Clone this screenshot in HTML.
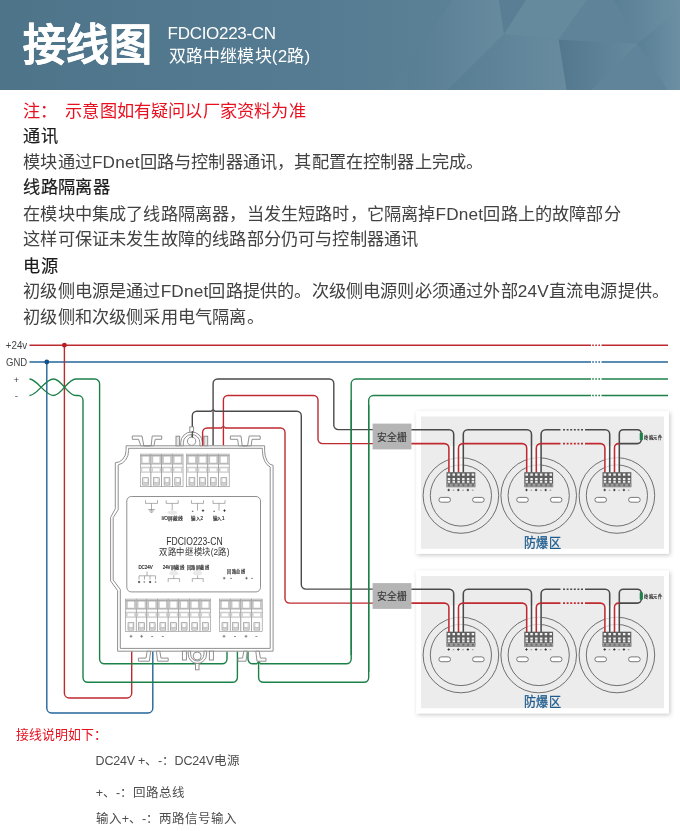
<!DOCTYPE html>
<html lang="zh-CN">
<head>
<meta charset="utf-8">
<title>接线图 FDCIO223-CN</title>
<style>
html,body{margin:0;padding:0;background:#fff;}
body{width:680px;height:831px;position:relative;overflow:hidden;font-family:"Liberation Sans",sans-serif;color:#333;}
#hdr{position:absolute;left:0;top:0;width:680px;height:89.5px;overflow:hidden;background:#4f758b;}
#hdr svg{position:absolute;left:0;top:0;}
#title{position:absolute;left:22.5px;top:17px;font-size:43px;line-height:56px;font-weight:bold;color:#fff;white-space:nowrap;-webkit-text-stroke:0.5px #fff;}
#sub1,#sub2{position:absolute;left:169px;font-size:17px;line-height:22px;color:#fff;white-space:nowrap;}
#sub1{top:23px;left:167.6px;letter-spacing:-0.3px;}
#sub2{top:45.6px;left:168.6px;letter-spacing:0.2px;}
.t{position:absolute;left:23.2px;font-size:17.2px;line-height:26px;white-space:nowrap;color:#424242;letter-spacing:0.18px;}
.t i{font-style:normal;letter-spacing:0.2px;}
.b{font-weight:normal;color:#1c1c1c;-webkit-text-stroke:0.2px #1c1c1c;letter-spacing:0.35px;}
.r{color:#e8101f;}
.f{position:absolute;font-size:12.5px;line-height:18px;white-space:nowrap;color:#4d4d4d;}
#dia{position:absolute;left:0;top:330px;}
#wrap{position:absolute;left:0;top:0;width:680px;height:831px;will-change:transform;}
</style>
</head>
<body>
<div id="wrap">
<div id="hdr">
<svg width="680" height="90" viewBox="0 0 680 90">
<defs>
<linearGradient id="hg" x1="0" y1="0" x2="1" y2="0"><stop offset="0" stop-color="#4e748a"/><stop offset="0.5" stop-color="#557c92"/><stop offset="0.62" stop-color="#5a8095"/><stop offset="1" stop-color="#64889c"/></linearGradient>
<linearGradient id="g1" x1="0" y1="0" x2="1" y2="0"><stop offset="0" stop-color="#587e94"/><stop offset="1" stop-color="#688b9f"/></linearGradient>
<linearGradient id="g2" x1="0" y1="0" x2="1" y2="0"><stop offset="0" stop-color="#53788e"/><stop offset="1" stop-color="#668a9e"/></linearGradient>
<linearGradient id="g3" x1="0" y1="0" x2="1" y2="0"><stop offset="0" stop-color="#5a8096"/><stop offset="1" stop-color="#6c8fa3"/></linearGradient>
</defs>
<rect width="680" height="90" fill="url(#hg)"/>
<polygon points="410,63 452.5,0 499,0 504,34 446,92 407,92" fill="url(#g1)" opacity="0.9"/>
<polygon points="410,63 407,92 385,92" fill="#5b8096" opacity="0.6"/>
<polygon points="499,0 526,0 504,34" fill="#5a7f95"/>
<polygon points="504,34 446,92 567,92 558.7,39.7" fill="url(#g1)"/>
<polygon points="526,0 587,0 558.7,39.7 504,34" fill="#65899d"/>
<polygon points="587,0 614,0 637.6,43.7 558.7,39.7" fill="#5f8499"/>
<polygon points="614,0 680,0 680,8 637.6,43.7" fill="url(#g3)"/>
<polygon points="558.7,39.7 637.6,43.7 590,92 567,92" fill="url(#g2)"/>
<polygon points="637.6,43.7 669,92 590,92" fill="#608499"/>
<polygon points="637.6,43.7 680,8 680,92 669,92" fill="url(#g3)"/>
</svg>
<div id="title">接线图</div>
<div id="sub1">FDCIO223-CN</div>
<div id="sub2">双路中继模块(2路)</div>
</div>
<div class="t r" style="top:98.4px">注：<span style="margin-left:7.6px">示意图</span>如有疑问以厂家资料为准</div>
<div class="t b" style="top:123.4px">通讯</div>
<div class="t" style="top:149.4px">模块通过<i>FDnet</i>回路与控制器通讯，其配置在控制器上完成。</div>
<div class="t b" style="top:174.4px">线路隔离器</div>
<div class="t" style="top:201.4px">在模块中集成了线路隔离器，当发生短路时，它隔离掉<i>FDnet</i>回路上的故障部分</div>
<div class="t" style="top:226.4px">这样可保证未发生故障的线路部分仍可与控制器通讯</div>
<div class="t b" style="top:253.4px">电源</div>
<div class="t" style="top:278.4px">初级侧电源是通过<i>FDnet</i>回路提供的。次级侧电源则必须通过外部<i>24V</i>直流电源提供。</div>
<div class="t" style="top:304.4px">初级侧和次级侧采用电气隔离。</div>
<svg id="dia" width="680" height="400" viewBox="0 330 680 400">
<defs><filter id="sh" x="-5%" y="-8%" width="112%" height="120%"><feDropShadow dx="1.2" dy="1.5" stdDeviation="2" flood-color="#000" flood-opacity="0.22"/></filter></defs>
<rect x="416.2" y="411.2" width="252.8" height="142.6" fill="#fff" filter="url(#sh)"/>
<rect x="421" y="416.5" width="243" height="132.2" fill="#ececec"/>
<rect x="416.2" y="570.7" width="252.8" height="142.6" fill="#fff" filter="url(#sh)"/>
<rect x="421" y="576" width="243" height="132.2" fill="#ececec"/>
<path d="M29.5,345.2H591" fill="none" stroke="#be2a30" stroke-width="1.4" />
<path d="M592.2,345.2H600.6" fill="none" stroke="#be2a30" stroke-width="1.4" stroke-dasharray="1.6 1.5"/>
<path d="M601.5,345.2H668" fill="none" stroke="#be2a30" stroke-width="1.4" />
<path d="M29.5,362H591" fill="none" stroke="#23659a" stroke-width="1.4" />
<path d="M592.2,362H600.6" fill="none" stroke="#23659a" stroke-width="1.4" stroke-dasharray="1.6 1.5"/>
<path d="M601.5,362H668" fill="none" stroke="#23659a" stroke-width="1.4" />
<path d="M46.8,362V708.2A4.8,4.8 0 0 0 51.6,713H148A4.8,4.8 0 0 0 152.8,708.2V651.3" fill="none" stroke="#23659a" stroke-width="1.4" />
<path d="M64.4,345.2V693.2A4.8,4.8 0 0 0 69.2,698H126.9A4.8,4.8 0 0 0 131.7,693.2V651.3" fill="none" stroke="#be2a30" stroke-width="1.4" />
<circle cx="64.4" cy="345.2" r="2.4" fill="#b41f26"/>
<circle cx="46.8" cy="362" r="2.4" fill="#125087"/>
<path d="M29.5,379C37,379 45,395.5 53.5,395.5C62,395.5 67,379 76,379H94.8A4.8,4.8 0 0 1 99.6,383.8V659A4.8,4.8 0 0 0 104.4,663.8H222.2A4.8,4.8 0 0 0 227,659V651.3" fill="none" stroke="#1c8049" stroke-width="1.4" />
<path d="M29.5,395.5C37,395.5 45,379 53.5,379C62,379 67,395.5 76,395.5H78.2A4.8,4.8 0 0 1 83,400.3V677.5A4.8,4.8 0 0 0 87.8,682.3H232.6A4.8,4.8 0 0 0 237.4,677.5V651.3" fill="none" stroke="#1c8049" stroke-width="1.4" />
<path d="M248,651.3V659A4.8,4.8 0 0 0 252.8,663.8H256.6q2,-2.8 4,0H346.4A4.8,4.8 0 0 0 351.2,659V383.8A4.8,4.8 0 0 1 356,379H591" fill="none" stroke="#1c8049" stroke-width="1.4" />
<path d="M592.2,379H600.6" fill="none" stroke="#1c8049" stroke-width="1.4" stroke-dasharray="1.6 1.5"/>
<path d="M601.5,379H668" fill="none" stroke="#1c8049" stroke-width="1.4" />
<path d="M258.6,651.3V677.5A4.8,4.8 0 0 0 263.4,682.3H363.9A4.8,4.8 0 0 0 368.7,677.5V400.3A4.8,4.8 0 0 1 373.5,395.5H591" fill="none" stroke="#1c8049" stroke-width="1.4" />
<path d="M592.2,395.5H600.6" fill="none" stroke="#1c8049" stroke-width="1.4" stroke-dasharray="1.6 1.5"/>
<path d="M601.5,395.5H668" fill="none" stroke="#1c8049" stroke-width="1.4" />
<path d="M213.1,445.6V383.5A4.5,4.5 0 0 1 217.6,379H329.3A4.5,4.5 0 0 1 333.8,383.5V425.1A4.5,4.5 0 0 0 338.3,429.6H373" fill="none" stroke="#4a4a4a" stroke-width="1.4" />
<path d="M223.4,445.6V400A4.5,4.5 0 0 1 227.9,395.5H313.5A4.5,4.5 0 0 1 318,400V439.1A4.5,4.5 0 0 0 322.5,443.6H373" fill="none" stroke="#be2a30" stroke-width="1.4" />
<path d="M192.3,437.5V415.8A4.5,4.5 0 0 1 196.8,411.3H211.1q2,-2.8 4,0H296.8A4.5,4.5 0 0 1 301.3,415.8V584.6A4.5,4.5 0 0 0 305.8,589.1H373" fill="none" stroke="#4a4a4a" stroke-width="1.4" />
<path d="M202.6,445.6V432.5A4.5,4.5 0 0 1 207.1,428H221.4q2,-2.8 4,0H280.5A4.5,4.5 0 0 1 285,432.5V598.6A4.5,4.5 0 0 0 289.5,603.1H373" fill="none" stroke="#be2a30" stroke-width="1.4" />
<path d="M351.2,400V655" fill="none" stroke="#1c8049" stroke-width="1.4" />
<path d="M368.7,405V672" fill="none" stroke="#1c8049" stroke-width="1.4" />
<rect x="372.6" y="423.6" width="38.8" height="25.8" fill="#b5b5b5"/>
<text x="392" y="440.5" font-size="10.6" fill="#3a3a3a" stroke="#3a3a3a" stroke-width="0.2" text-anchor="middle" textLength="30.6" lengthAdjust="spacingAndGlyphs">安全栅</text>
<rect x="372.6" y="583.1" width="38.8" height="25.8" fill="#b5b5b5"/>
<text x="392" y="600" font-size="10.6" fill="#3a3a3a" stroke="#3a3a3a" stroke-width="0.2" text-anchor="middle" textLength="30.6" lengthAdjust="spacingAndGlyphs">安全栅</text>
<circle cx="460.9" cy="495.5" r="37.8" fill="none" stroke="#585858" stroke-width="0.85"/>
<circle cx="460.9" cy="495.5" r="30.6" fill="none" stroke="#585858" stroke-width="0.85"/>
<rect x="438.9" y="497.4" width="11.6" height="4.8" rx="2.4" fill="#fff" stroke="#5a5a5a" stroke-width="0.8"/>
<rect x="472.6" y="497.4" width="11.6" height="4.8" rx="2.4" fill="#fff" stroke="#5a5a5a" stroke-width="0.8"/>
<circle cx="538.7" cy="495.5" r="37.8" fill="none" stroke="#585858" stroke-width="0.85"/>
<circle cx="538.7" cy="495.5" r="30.6" fill="none" stroke="#585858" stroke-width="0.85"/>
<rect x="516.7" y="497.4" width="11.6" height="4.8" rx="2.4" fill="#fff" stroke="#5a5a5a" stroke-width="0.8"/>
<rect x="550.4" y="497.4" width="11.6" height="4.8" rx="2.4" fill="#fff" stroke="#5a5a5a" stroke-width="0.8"/>
<circle cx="616.9" cy="495.5" r="37.8" fill="none" stroke="#585858" stroke-width="0.85"/>
<circle cx="616.9" cy="495.5" r="30.6" fill="none" stroke="#585858" stroke-width="0.85"/>
<rect x="594.9" y="497.4" width="11.6" height="4.8" rx="2.4" fill="#fff" stroke="#5a5a5a" stroke-width="0.8"/>
<rect x="628.6" y="497.4" width="11.6" height="4.8" rx="2.4" fill="#fff" stroke="#5a5a5a" stroke-width="0.8"/>
<rect x="448.1" y="446" width="16" height="26.5" fill="#fff" opacity="0.7"/>
<rect x="525.9" y="446" width="16" height="26.5" fill="#fff" opacity="0.7"/>
<rect x="604.1" y="446" width="16" height="26.5" fill="#fff" opacity="0.7"/>
<path d="M411.4,429.7H449.2A4.5,4.5 0 0 1 453.7,434.2V472.6" fill="none" stroke="#4a4a4a" stroke-width="1.55" />
<path d="M411.4,443.6H444.4A4.5,4.5 0 0 1 448.9,448.1V472.6" fill="none" stroke="#be2a30" stroke-width="1.55" />
<path d="M463.3,472.6V434.2A4.5,4.5 0 0 1 467.8,429.7H527A4.5,4.5 0 0 1 531.5,434.2V472.6" fill="none" stroke="#4a4a4a" stroke-width="1.55" />
<path d="M458.5,472.6V448.1A4.5,4.5 0 0 1 463,443.6H522.2A4.5,4.5 0 0 1 526.7,448.1V472.6" fill="none" stroke="#be2a30" stroke-width="1.55" />
<path d="M541.1,472.6V434.2A4.5,4.5 0 0 1 545.6,429.7H560.5" fill="none" stroke="#4a4a4a" stroke-width="1.55" />
<path d="M536.3,472.6V448.1A4.5,4.5 0 0 1 540.8,443.6H560.5" fill="none" stroke="#be2a30" stroke-width="1.55" />
<path d="M563,429.7H583" fill="none" stroke="#4a4a4a" stroke-width="1.55" stroke-dasharray="2 1.6"/>
<path d="M563,443.6H583" fill="none" stroke="#be2a30" stroke-width="1.55" stroke-dasharray="2 1.6"/>
<path d="M585,429.7H605.2A4.5,4.5 0 0 1 609.7,434.2V472.6" fill="none" stroke="#4a4a4a" stroke-width="1.55" />
<path d="M585,443.6H600.4A4.5,4.5 0 0 1 604.9,448.1V472.6" fill="none" stroke="#be2a30" stroke-width="1.55" />
<path d="M619.3,472.6V433.7A4,4 0 0 1 623.3,429.7H637.3A4,4 0 0 1 641.3,433.7V439.6A4,4 0 0 1 637.3,443.6H618.9" fill="none" stroke="#4a4a4a" stroke-width="1.55" />
<path d="M614.5,472.6V447.6A4,4 0 0 1 618.5,443.6H619.4" fill="none" stroke="#be2a30" stroke-width="1.55" />
<rect x="639.7" y="432.8" width="3.2" height="7.4" rx="0.6" fill="#1c8049"/>
<text x="644.2" y="438.8" font-size="4.6" fill="#222" stroke="#222" stroke-width="0.15" textLength="18.5" lengthAdjust="spacingAndGlyphs">终端元件</text>
<rect x="446.5" y="472.2" width="28.8" height="15" fill="#5e5e5e"/>
<rect x="446.5" y="483.5" width="28.8" height="3.4" fill="#9a9a9a"/>
<rect x="447.7" y="473.5" width="2.5" height="2.2" fill="#f4f4f4"/><rect x="447.7" y="478" width="2.5" height="2.1" fill="#f0f0f0"/><rect x="447.7" y="480.8" width="2.5" height="2" fill="#f0f0f0"/><rect x="448" y="484.2" width="1.9" height="2" fill="#6a6a6a"/><rect x="452.5" y="473.5" width="2.5" height="2.2" fill="#f4f4f4"/><rect x="452.5" y="478" width="2.5" height="2.1" fill="#f0f0f0"/><rect x="452.5" y="480.8" width="2.5" height="2" fill="#f0f0f0"/><rect x="452.8" y="484.2" width="1.9" height="2" fill="#6a6a6a"/><rect x="457.3" y="473.5" width="2.5" height="2.2" fill="#f4f4f4"/><rect x="457.3" y="478" width="2.5" height="2.1" fill="#f0f0f0"/><rect x="457.3" y="480.8" width="2.5" height="2" fill="#f0f0f0"/><rect x="457.6" y="484.2" width="1.9" height="2" fill="#6a6a6a"/><rect x="462.1" y="473.5" width="2.5" height="2.2" fill="#f4f4f4"/><rect x="462.1" y="478" width="2.5" height="2.1" fill="#f0f0f0"/><rect x="462.1" y="480.8" width="2.5" height="2" fill="#f0f0f0"/><rect x="462.4" y="484.2" width="1.9" height="2" fill="#6a6a6a"/><rect x="466.9" y="473.5" width="2.5" height="2.2" fill="#f4f4f4"/><rect x="466.9" y="478" width="2.5" height="2.1" fill="#f0f0f0"/><rect x="466.9" y="480.8" width="2.5" height="2" fill="#f0f0f0"/><rect x="467.2" y="484.2" width="1.9" height="2" fill="#6a6a6a"/><rect x="471.7" y="473.5" width="2.5" height="2.2" fill="#f4f4f4"/><rect x="471.7" y="478" width="2.5" height="2.1" fill="#f0f0f0"/><rect x="471.7" y="480.8" width="2.5" height="2" fill="#f0f0f0"/><rect x="472" y="484.2" width="1.9" height="2" fill="#6a6a6a"/>
<path d="M447.5,490h2.4M448.7,488.8v2.4M457.1,490h2.4M458.3,488.8v2.4M466.7,490h2.4M467.9,488.8v2.4" stroke="#2e2e2e" stroke-width="0.9" fill="none"/><path d="M452.7,490.2h1.6M462.3,490.2h1.6M471.9,490.2h1.6" stroke="#777" stroke-width="0.8" fill="none"/>
<rect x="524.3" y="472.2" width="28.8" height="15" fill="#5e5e5e"/>
<rect x="524.3" y="483.5" width="28.8" height="3.4" fill="#9a9a9a"/>
<rect x="525.5" y="473.5" width="2.5" height="2.2" fill="#f4f4f4"/><rect x="525.5" y="478" width="2.5" height="2.1" fill="#f0f0f0"/><rect x="525.5" y="480.8" width="2.5" height="2" fill="#f0f0f0"/><rect x="525.8" y="484.2" width="1.9" height="2" fill="#6a6a6a"/><rect x="530.3" y="473.5" width="2.5" height="2.2" fill="#f4f4f4"/><rect x="530.3" y="478" width="2.5" height="2.1" fill="#f0f0f0"/><rect x="530.3" y="480.8" width="2.5" height="2" fill="#f0f0f0"/><rect x="530.6" y="484.2" width="1.9" height="2" fill="#6a6a6a"/><rect x="535.1" y="473.5" width="2.5" height="2.2" fill="#f4f4f4"/><rect x="535.1" y="478" width="2.5" height="2.1" fill="#f0f0f0"/><rect x="535.1" y="480.8" width="2.5" height="2" fill="#f0f0f0"/><rect x="535.4" y="484.2" width="1.9" height="2" fill="#6a6a6a"/><rect x="539.9" y="473.5" width="2.5" height="2.2" fill="#f4f4f4"/><rect x="539.9" y="478" width="2.5" height="2.1" fill="#f0f0f0"/><rect x="539.9" y="480.8" width="2.5" height="2" fill="#f0f0f0"/><rect x="540.2" y="484.2" width="1.9" height="2" fill="#6a6a6a"/><rect x="544.7" y="473.5" width="2.5" height="2.2" fill="#f4f4f4"/><rect x="544.7" y="478" width="2.5" height="2.1" fill="#f0f0f0"/><rect x="544.7" y="480.8" width="2.5" height="2" fill="#f0f0f0"/><rect x="545" y="484.2" width="1.9" height="2" fill="#6a6a6a"/><rect x="549.5" y="473.5" width="2.5" height="2.2" fill="#f4f4f4"/><rect x="549.5" y="478" width="2.5" height="2.1" fill="#f0f0f0"/><rect x="549.5" y="480.8" width="2.5" height="2" fill="#f0f0f0"/><rect x="549.8" y="484.2" width="1.9" height="2" fill="#6a6a6a"/>
<path d="M525.3,490h2.4M526.5,488.8v2.4M534.9,490h2.4M536.1,488.8v2.4M544.5,490h2.4M545.7,488.8v2.4" stroke="#2e2e2e" stroke-width="0.9" fill="none"/><path d="M530.5,490.2h1.6M540.1,490.2h1.6M549.7,490.2h1.6" stroke="#777" stroke-width="0.8" fill="none"/>
<rect x="602.5" y="472.2" width="28.8" height="15" fill="#5e5e5e"/>
<rect x="602.5" y="483.5" width="28.8" height="3.4" fill="#9a9a9a"/>
<rect x="603.7" y="473.5" width="2.5" height="2.2" fill="#f4f4f4"/><rect x="603.7" y="478" width="2.5" height="2.1" fill="#f0f0f0"/><rect x="603.7" y="480.8" width="2.5" height="2" fill="#f0f0f0"/><rect x="604" y="484.2" width="1.9" height="2" fill="#6a6a6a"/><rect x="608.5" y="473.5" width="2.5" height="2.2" fill="#f4f4f4"/><rect x="608.5" y="478" width="2.5" height="2.1" fill="#f0f0f0"/><rect x="608.5" y="480.8" width="2.5" height="2" fill="#f0f0f0"/><rect x="608.8" y="484.2" width="1.9" height="2" fill="#6a6a6a"/><rect x="613.3" y="473.5" width="2.5" height="2.2" fill="#f4f4f4"/><rect x="613.3" y="478" width="2.5" height="2.1" fill="#f0f0f0"/><rect x="613.3" y="480.8" width="2.5" height="2" fill="#f0f0f0"/><rect x="613.6" y="484.2" width="1.9" height="2" fill="#6a6a6a"/><rect x="618.1" y="473.5" width="2.5" height="2.2" fill="#f4f4f4"/><rect x="618.1" y="478" width="2.5" height="2.1" fill="#f0f0f0"/><rect x="618.1" y="480.8" width="2.5" height="2" fill="#f0f0f0"/><rect x="618.4" y="484.2" width="1.9" height="2" fill="#6a6a6a"/><rect x="622.9" y="473.5" width="2.5" height="2.2" fill="#f4f4f4"/><rect x="622.9" y="478" width="2.5" height="2.1" fill="#f0f0f0"/><rect x="622.9" y="480.8" width="2.5" height="2" fill="#f0f0f0"/><rect x="623.2" y="484.2" width="1.9" height="2" fill="#6a6a6a"/><rect x="627.7" y="473.5" width="2.5" height="2.2" fill="#f4f4f4"/><rect x="627.7" y="478" width="2.5" height="2.1" fill="#f0f0f0"/><rect x="627.7" y="480.8" width="2.5" height="2" fill="#f0f0f0"/><rect x="628" y="484.2" width="1.9" height="2" fill="#6a6a6a"/>
<path d="M603.5,490h2.4M604.7,488.8v2.4M613.1,490h2.4M614.3,488.8v2.4M622.7,490h2.4M623.9,488.8v2.4" stroke="#2e2e2e" stroke-width="0.9" fill="none"/><path d="M608.7,490.2h1.6M618.3,490.2h1.6M627.9,490.2h1.6" stroke="#777" stroke-width="0.8" fill="none"/>
<text x="523.9" y="546.9" font-size="12.6" fill="#1f5c8e" stroke="#1f5c8e" stroke-width="0.3" textLength="37.2" lengthAdjust="spacingAndGlyphs">防爆区</text>
<circle cx="460.9" cy="655" r="37.8" fill="none" stroke="#585858" stroke-width="0.85"/>
<circle cx="460.9" cy="655" r="30.6" fill="none" stroke="#585858" stroke-width="0.85"/>
<rect x="438.9" y="656.9" width="11.6" height="4.8" rx="2.4" fill="#fff" stroke="#5a5a5a" stroke-width="0.8"/>
<rect x="472.6" y="656.9" width="11.6" height="4.8" rx="2.4" fill="#fff" stroke="#5a5a5a" stroke-width="0.8"/>
<circle cx="538.7" cy="655" r="37.8" fill="none" stroke="#585858" stroke-width="0.85"/>
<circle cx="538.7" cy="655" r="30.6" fill="none" stroke="#585858" stroke-width="0.85"/>
<rect x="516.7" y="656.9" width="11.6" height="4.8" rx="2.4" fill="#fff" stroke="#5a5a5a" stroke-width="0.8"/>
<rect x="550.4" y="656.9" width="11.6" height="4.8" rx="2.4" fill="#fff" stroke="#5a5a5a" stroke-width="0.8"/>
<circle cx="616.9" cy="655" r="37.8" fill="none" stroke="#585858" stroke-width="0.85"/>
<circle cx="616.9" cy="655" r="30.6" fill="none" stroke="#585858" stroke-width="0.85"/>
<rect x="594.9" y="656.9" width="11.6" height="4.8" rx="2.4" fill="#fff" stroke="#5a5a5a" stroke-width="0.8"/>
<rect x="628.6" y="656.9" width="11.6" height="4.8" rx="2.4" fill="#fff" stroke="#5a5a5a" stroke-width="0.8"/>
<rect x="448.1" y="605.5" width="16" height="26.5" fill="#fff" opacity="0.7"/>
<rect x="525.9" y="605.5" width="16" height="26.5" fill="#fff" opacity="0.7"/>
<rect x="604.1" y="605.5" width="16" height="26.5" fill="#fff" opacity="0.7"/>
<path d="M411.4,589.2H449.2A4.5,4.5 0 0 1 453.7,593.7V632.1" fill="none" stroke="#4a4a4a" stroke-width="1.55" />
<path d="M411.4,603.1H444.4A4.5,4.5 0 0 1 448.9,607.6V632.1" fill="none" stroke="#be2a30" stroke-width="1.55" />
<path d="M463.3,632.1V593.7A4.5,4.5 0 0 1 467.8,589.2H527A4.5,4.5 0 0 1 531.5,593.7V632.1" fill="none" stroke="#4a4a4a" stroke-width="1.55" />
<path d="M458.5,632.1V607.6A4.5,4.5 0 0 1 463,603.1H522.2A4.5,4.5 0 0 1 526.7,607.6V632.1" fill="none" stroke="#be2a30" stroke-width="1.55" />
<path d="M541.1,632.1V593.7A4.5,4.5 0 0 1 545.6,589.2H560.5" fill="none" stroke="#4a4a4a" stroke-width="1.55" />
<path d="M536.3,632.1V607.6A4.5,4.5 0 0 1 540.8,603.1H560.5" fill="none" stroke="#be2a30" stroke-width="1.55" />
<path d="M563,589.2H583" fill="none" stroke="#4a4a4a" stroke-width="1.55" stroke-dasharray="2 1.6"/>
<path d="M563,603.1H583" fill="none" stroke="#be2a30" stroke-width="1.55" stroke-dasharray="2 1.6"/>
<path d="M585,589.2H605.2A4.5,4.5 0 0 1 609.7,593.7V632.1" fill="none" stroke="#4a4a4a" stroke-width="1.55" />
<path d="M585,603.1H600.4A4.5,4.5 0 0 1 604.9,607.6V632.1" fill="none" stroke="#be2a30" stroke-width="1.55" />
<path d="M619.3,632.1V593.2A4,4 0 0 1 623.3,589.2H637.3A4,4 0 0 1 641.3,593.2V599.1A4,4 0 0 1 637.3,603.1H618.9" fill="none" stroke="#4a4a4a" stroke-width="1.55" />
<path d="M614.5,632.1V607.1A4,4 0 0 1 618.5,603.1H619.4" fill="none" stroke="#be2a30" stroke-width="1.55" />
<rect x="639.7" y="592.3" width="3.2" height="7.4" rx="0.6" fill="#1c8049"/>
<text x="644.2" y="598.3" font-size="4.6" fill="#222" stroke="#222" stroke-width="0.15" textLength="18.5" lengthAdjust="spacingAndGlyphs">终端元件</text>
<rect x="446.5" y="631.7" width="28.8" height="15" fill="#5e5e5e"/>
<rect x="446.5" y="643" width="28.8" height="3.4" fill="#9a9a9a"/>
<rect x="447.7" y="633" width="2.5" height="2.2" fill="#f4f4f4"/><rect x="447.7" y="637.5" width="2.5" height="2.1" fill="#f0f0f0"/><rect x="447.7" y="640.3" width="2.5" height="2" fill="#f0f0f0"/><rect x="448" y="643.7" width="1.9" height="2" fill="#6a6a6a"/><rect x="452.5" y="633" width="2.5" height="2.2" fill="#f4f4f4"/><rect x="452.5" y="637.5" width="2.5" height="2.1" fill="#f0f0f0"/><rect x="452.5" y="640.3" width="2.5" height="2" fill="#f0f0f0"/><rect x="452.8" y="643.7" width="1.9" height="2" fill="#6a6a6a"/><rect x="457.3" y="633" width="2.5" height="2.2" fill="#f4f4f4"/><rect x="457.3" y="637.5" width="2.5" height="2.1" fill="#f0f0f0"/><rect x="457.3" y="640.3" width="2.5" height="2" fill="#f0f0f0"/><rect x="457.6" y="643.7" width="1.9" height="2" fill="#6a6a6a"/><rect x="462.1" y="633" width="2.5" height="2.2" fill="#f4f4f4"/><rect x="462.1" y="637.5" width="2.5" height="2.1" fill="#f0f0f0"/><rect x="462.1" y="640.3" width="2.5" height="2" fill="#f0f0f0"/><rect x="462.4" y="643.7" width="1.9" height="2" fill="#6a6a6a"/><rect x="466.9" y="633" width="2.5" height="2.2" fill="#f4f4f4"/><rect x="466.9" y="637.5" width="2.5" height="2.1" fill="#f0f0f0"/><rect x="466.9" y="640.3" width="2.5" height="2" fill="#f0f0f0"/><rect x="467.2" y="643.7" width="1.9" height="2" fill="#6a6a6a"/><rect x="471.7" y="633" width="2.5" height="2.2" fill="#f4f4f4"/><rect x="471.7" y="637.5" width="2.5" height="2.1" fill="#f0f0f0"/><rect x="471.7" y="640.3" width="2.5" height="2" fill="#f0f0f0"/><rect x="472" y="643.7" width="1.9" height="2" fill="#6a6a6a"/>
<path d="M447.5,649.5h2.4M448.7,648.3v2.4M457.1,649.5h2.4M458.3,648.3v2.4M466.7,649.5h2.4M467.9,648.3v2.4" stroke="#2e2e2e" stroke-width="0.9" fill="none"/><path d="M452.7,649.7h1.6M462.3,649.7h1.6M471.9,649.7h1.6" stroke="#777" stroke-width="0.8" fill="none"/>
<rect x="524.3" y="631.7" width="28.8" height="15" fill="#5e5e5e"/>
<rect x="524.3" y="643" width="28.8" height="3.4" fill="#9a9a9a"/>
<rect x="525.5" y="633" width="2.5" height="2.2" fill="#f4f4f4"/><rect x="525.5" y="637.5" width="2.5" height="2.1" fill="#f0f0f0"/><rect x="525.5" y="640.3" width="2.5" height="2" fill="#f0f0f0"/><rect x="525.8" y="643.7" width="1.9" height="2" fill="#6a6a6a"/><rect x="530.3" y="633" width="2.5" height="2.2" fill="#f4f4f4"/><rect x="530.3" y="637.5" width="2.5" height="2.1" fill="#f0f0f0"/><rect x="530.3" y="640.3" width="2.5" height="2" fill="#f0f0f0"/><rect x="530.6" y="643.7" width="1.9" height="2" fill="#6a6a6a"/><rect x="535.1" y="633" width="2.5" height="2.2" fill="#f4f4f4"/><rect x="535.1" y="637.5" width="2.5" height="2.1" fill="#f0f0f0"/><rect x="535.1" y="640.3" width="2.5" height="2" fill="#f0f0f0"/><rect x="535.4" y="643.7" width="1.9" height="2" fill="#6a6a6a"/><rect x="539.9" y="633" width="2.5" height="2.2" fill="#f4f4f4"/><rect x="539.9" y="637.5" width="2.5" height="2.1" fill="#f0f0f0"/><rect x="539.9" y="640.3" width="2.5" height="2" fill="#f0f0f0"/><rect x="540.2" y="643.7" width="1.9" height="2" fill="#6a6a6a"/><rect x="544.7" y="633" width="2.5" height="2.2" fill="#f4f4f4"/><rect x="544.7" y="637.5" width="2.5" height="2.1" fill="#f0f0f0"/><rect x="544.7" y="640.3" width="2.5" height="2" fill="#f0f0f0"/><rect x="545" y="643.7" width="1.9" height="2" fill="#6a6a6a"/><rect x="549.5" y="633" width="2.5" height="2.2" fill="#f4f4f4"/><rect x="549.5" y="637.5" width="2.5" height="2.1" fill="#f0f0f0"/><rect x="549.5" y="640.3" width="2.5" height="2" fill="#f0f0f0"/><rect x="549.8" y="643.7" width="1.9" height="2" fill="#6a6a6a"/>
<path d="M525.3,649.5h2.4M526.5,648.3v2.4M534.9,649.5h2.4M536.1,648.3v2.4M544.5,649.5h2.4M545.7,648.3v2.4" stroke="#2e2e2e" stroke-width="0.9" fill="none"/><path d="M530.5,649.7h1.6M540.1,649.7h1.6M549.7,649.7h1.6" stroke="#777" stroke-width="0.8" fill="none"/>
<rect x="602.5" y="631.7" width="28.8" height="15" fill="#5e5e5e"/>
<rect x="602.5" y="643" width="28.8" height="3.4" fill="#9a9a9a"/>
<rect x="603.7" y="633" width="2.5" height="2.2" fill="#f4f4f4"/><rect x="603.7" y="637.5" width="2.5" height="2.1" fill="#f0f0f0"/><rect x="603.7" y="640.3" width="2.5" height="2" fill="#f0f0f0"/><rect x="604" y="643.7" width="1.9" height="2" fill="#6a6a6a"/><rect x="608.5" y="633" width="2.5" height="2.2" fill="#f4f4f4"/><rect x="608.5" y="637.5" width="2.5" height="2.1" fill="#f0f0f0"/><rect x="608.5" y="640.3" width="2.5" height="2" fill="#f0f0f0"/><rect x="608.8" y="643.7" width="1.9" height="2" fill="#6a6a6a"/><rect x="613.3" y="633" width="2.5" height="2.2" fill="#f4f4f4"/><rect x="613.3" y="637.5" width="2.5" height="2.1" fill="#f0f0f0"/><rect x="613.3" y="640.3" width="2.5" height="2" fill="#f0f0f0"/><rect x="613.6" y="643.7" width="1.9" height="2" fill="#6a6a6a"/><rect x="618.1" y="633" width="2.5" height="2.2" fill="#f4f4f4"/><rect x="618.1" y="637.5" width="2.5" height="2.1" fill="#f0f0f0"/><rect x="618.1" y="640.3" width="2.5" height="2" fill="#f0f0f0"/><rect x="618.4" y="643.7" width="1.9" height="2" fill="#6a6a6a"/><rect x="622.9" y="633" width="2.5" height="2.2" fill="#f4f4f4"/><rect x="622.9" y="637.5" width="2.5" height="2.1" fill="#f0f0f0"/><rect x="622.9" y="640.3" width="2.5" height="2" fill="#f0f0f0"/><rect x="623.2" y="643.7" width="1.9" height="2" fill="#6a6a6a"/><rect x="627.7" y="633" width="2.5" height="2.2" fill="#f4f4f4"/><rect x="627.7" y="637.5" width="2.5" height="2.1" fill="#f0f0f0"/><rect x="627.7" y="640.3" width="2.5" height="2" fill="#f0f0f0"/><rect x="628" y="643.7" width="1.9" height="2" fill="#6a6a6a"/>
<path d="M603.5,649.5h2.4M604.7,648.3v2.4M613.1,649.5h2.4M614.3,648.3v2.4M622.7,649.5h2.4M623.9,648.3v2.4" stroke="#2e2e2e" stroke-width="0.9" fill="none"/><path d="M608.7,649.7h1.6M618.3,649.7h1.6M627.9,649.7h1.6" stroke="#777" stroke-width="0.8" fill="none"/>
<text x="523.9" y="706.4" font-size="12.6" fill="#1f5c8e" stroke="#1f5c8e" stroke-width="0.3" textLength="37.2" lengthAdjust="spacingAndGlyphs">防爆区</text>
<path d="M126.1,445.8 H264.6 V450.3 A8.6,15 0 0 0 273.1,465.3 V651.2 H117.6 V590.6 L110.6,580.9 V517.4 L115.3,508.8 V462.7 A10.8,12.4 0 0 0 126.1,450.3 Z" fill="#fff" stroke="#8a8a8a" stroke-width="0.95" stroke-linejoin="miter"/>
<path d="M128.6,448.3 H262.4 V450.6 A10.6,17 0 0 0 270.2,467 V648.4 H120.3 V589.4 L113.2,580 V517.6 L118.2,509.7 V464.9 A12.6,14.4 0 0 0 128.6,450.6 Z" fill="none" stroke="#8a8a8a" stroke-width="0.95" stroke-linejoin="miter"/>
<path d="M132.3,436 H142 L143.8,445.8 H151.2 L152.2,436 H161.7 V439.3 H155.2 L153.9,445.8 H140.8 L138.6,439.3 H132.3 Z" fill="#fff" stroke="#8a8a8a" stroke-width="0.95"/>
<path d="M230.4,436 H241 L242.2,445.8 H247.6 L249.2,436 H260.2 V439.3 H252 L251.2,445.8 H238.6 L237.6,439.3 H230.4 Z" fill="#fff" stroke="#8a8a8a" stroke-width="0.95"/>
<path d="M180.7,445.8 V442.8 A10.9,10.9 0 0 1 202.5,442.8 V445.8 H199.9 V442.8 A8.3,8.3 0 0 0 183.3,442.8 V445.8 Z" fill="#fff" stroke="#8a8a8a" stroke-width="0.95"/>
<rect x="189.8" y="426.9" width="3.8" height="5.3" fill="#fff" stroke="#8a8a8a" stroke-width="0.95"/>
<circle cx="191.6" cy="441.2" r="4.2" fill="#fff" stroke="#8a8a8a" stroke-width="0.95"/>
<rect x="176" y="436.2" width="3.6" height="9.6" fill="#e6e6e6" stroke="#8a8a8a" stroke-width="0.95"/>
<rect x="203.9" y="436.2" width="3.8" height="9.6" fill="#e6e6e6" stroke="#8a8a8a" stroke-width="0.95"/>
<path d="M188.2,651.2 V654 A9.2,9.5 0 0 0 206.6,654 V651.2 H204 V654 A6.7,7 0 0 1 190.6,654 V651.2 Z" fill="#fff" stroke="#8a8a8a" stroke-width="0.95"/>
<rect x="195.5" y="663.5" width="3.5" height="6.3" fill="#fff" stroke="#8a8a8a" stroke-width="0.95"/>
<circle cx="197.2" cy="656" r="4" fill="#fff" stroke="#8a8a8a" stroke-width="0.95"/>
<rect x="182.4" y="651.2" width="4" height="8.8" fill="#fff" stroke="#8a8a8a" stroke-width="0.95"/>
<rect x="209.4" y="651.2" width="4" height="8.8" fill="#fff" stroke="#8a8a8a" stroke-width="0.95"/>
<path d="M138.4,661.2 H149.4 L150.6,651.2 H147.20000000000002 L146.0,658.1 H138.4 Z" fill="#fff" stroke="#8a8a8a" stroke-width="0.95"/>
<path d="M168.2,661.2 H157.6 L156.4,651.2 H159.79999999999998 L161.0,658.1 H168.2 Z" fill="#fff" stroke="#8a8a8a" stroke-width="0.95"/>
<path d="M238,661.2 H246 L247.2,651.2 H243.8 L242.6,658.1 H238 Z" fill="#fff" stroke="#8a8a8a" stroke-width="0.95"/>
<path d="M266,661.2 H257 L255.8,651.2 H259.2 L260.4,658.1 H266 Z" fill="#fff" stroke="#8a8a8a" stroke-width="0.95"/>
<rect x="140.30" y="454.1" width="10.65" height="32.6" fill="#fff" stroke="#8a8a8a" stroke-width="0.6"/><rect x="140.60" y="454.40000000000003" width="10.05" height="9.6" fill="#c6c6c6"/><rect x="142.50" y="456.5" width="6.25" height="6.2" fill="#fff"/><path d="M140.30,455.70000000000005h10.65M140.30,464.1h10.65M140.30,467.3h10.65M140.30,472.1h10.65" stroke="#8a8a8a" stroke-width="0.55" fill="none"/><rect x="140.60" y="467.6" width="10.05" height="4.2" fill="#d0d0d0"/><rect x="142.30" y="468.3" width="6.65" height="3" fill="#fff"/><rect x="142.70" y="477.70000000000005" width="5.85" height="7.4" fill="#e4e4e4" stroke="#8a8a8a" stroke-width="0.6"/><rect x="144.50" y="478.70000000000005" width="2.25" height="3.6" fill="#fff"/><path d="M143.30,482.90000000000003h4.65" stroke="#8a8a8a" stroke-width="0.6"/>
<rect x="151.00" y="454.1" width="10.65" height="32.6" fill="#fff" stroke="#8a8a8a" stroke-width="0.6"/><rect x="151.30" y="454.40000000000003" width="10.05" height="9.6" fill="#c6c6c6"/><rect x="153.20" y="456.5" width="6.25" height="6.2" fill="#fff"/><path d="M151.00,455.70000000000005h10.65M151.00,464.1h10.65M151.00,467.3h10.65M151.00,472.1h10.65" stroke="#8a8a8a" stroke-width="0.55" fill="none"/><rect x="151.30" y="467.6" width="10.05" height="4.2" fill="#d0d0d0"/><rect x="153.00" y="468.3" width="6.65" height="3" fill="#fff"/><rect x="153.40" y="477.70000000000005" width="5.85" height="7.4" fill="#e4e4e4" stroke="#8a8a8a" stroke-width="0.6"/><rect x="155.20" y="478.70000000000005" width="2.25" height="3.6" fill="#fff"/><path d="M154.00,482.90000000000003h4.65" stroke="#8a8a8a" stroke-width="0.6"/>
<rect x="161.70" y="454.1" width="10.65" height="32.6" fill="#fff" stroke="#8a8a8a" stroke-width="0.6"/><rect x="162.00" y="454.40000000000003" width="10.05" height="9.6" fill="#c6c6c6"/><rect x="163.90" y="456.5" width="6.25" height="6.2" fill="#fff"/><path d="M161.70,455.70000000000005h10.65M161.70,464.1h10.65M161.70,467.3h10.65M161.70,472.1h10.65" stroke="#8a8a8a" stroke-width="0.55" fill="none"/><rect x="162.00" y="467.6" width="10.05" height="4.2" fill="#d0d0d0"/><rect x="163.70" y="468.3" width="6.65" height="3" fill="#fff"/><rect x="164.10" y="477.70000000000005" width="5.85" height="7.4" fill="#e4e4e4" stroke="#8a8a8a" stroke-width="0.6"/><rect x="165.90" y="478.70000000000005" width="2.25" height="3.6" fill="#fff"/><path d="M164.70,482.90000000000003h4.65" stroke="#8a8a8a" stroke-width="0.6"/>
<rect x="172.40" y="454.1" width="10.65" height="32.6" fill="#fff" stroke="#8a8a8a" stroke-width="0.6"/><rect x="172.70" y="454.40000000000003" width="10.05" height="9.6" fill="#c6c6c6"/><rect x="174.60" y="456.5" width="6.25" height="6.2" fill="#fff"/><path d="M172.40,455.70000000000005h10.65M172.40,464.1h10.65M172.40,467.3h10.65M172.40,472.1h10.65" stroke="#8a8a8a" stroke-width="0.55" fill="none"/><rect x="172.70" y="467.6" width="10.05" height="4.2" fill="#d0d0d0"/><rect x="174.40" y="468.3" width="6.65" height="3" fill="#fff"/><rect x="174.80" y="477.70000000000005" width="5.85" height="7.4" fill="#e4e4e4" stroke="#8a8a8a" stroke-width="0.6"/><rect x="176.60" y="478.70000000000005" width="2.25" height="3.6" fill="#fff"/><path d="M175.40,482.90000000000003h4.65" stroke="#8a8a8a" stroke-width="0.6"/>
<rect x="186.60" y="454.1" width="10.65" height="32.6" fill="#fff" stroke="#8a8a8a" stroke-width="0.6"/><rect x="186.90" y="454.40000000000003" width="10.05" height="9.6" fill="#c6c6c6"/><rect x="188.80" y="456.5" width="6.25" height="6.2" fill="#fff"/><path d="M186.60,455.70000000000005h10.65M186.60,464.1h10.65M186.60,467.3h10.65M186.60,472.1h10.65" stroke="#8a8a8a" stroke-width="0.55" fill="none"/><rect x="186.90" y="467.6" width="10.05" height="4.2" fill="#d0d0d0"/><rect x="188.60" y="468.3" width="6.65" height="3" fill="#fff"/><rect x="189.00" y="477.70000000000005" width="5.85" height="7.4" fill="#e4e4e4" stroke="#8a8a8a" stroke-width="0.6"/><rect x="190.80" y="478.70000000000005" width="2.25" height="3.6" fill="#fff"/><path d="M189.60,482.90000000000003h4.65" stroke="#8a8a8a" stroke-width="0.6"/>
<rect x="197.25" y="454.1" width="10.65" height="32.6" fill="#fff" stroke="#8a8a8a" stroke-width="0.6"/><rect x="197.55" y="454.40000000000003" width="10.05" height="9.6" fill="#c6c6c6"/><rect x="199.45" y="456.5" width="6.25" height="6.2" fill="#fff"/><path d="M197.25,455.70000000000005h10.65M197.25,464.1h10.65M197.25,467.3h10.65M197.25,472.1h10.65" stroke="#8a8a8a" stroke-width="0.55" fill="none"/><rect x="197.55" y="467.6" width="10.05" height="4.2" fill="#d0d0d0"/><rect x="199.25" y="468.3" width="6.65" height="3" fill="#fff"/><rect x="199.65" y="477.70000000000005" width="5.85" height="7.4" fill="#e4e4e4" stroke="#8a8a8a" stroke-width="0.6"/><rect x="201.45" y="478.70000000000005" width="2.25" height="3.6" fill="#fff"/><path d="M200.25,482.90000000000003h4.65" stroke="#8a8a8a" stroke-width="0.6"/>
<rect x="207.90" y="454.1" width="10.65" height="32.6" fill="#fff" stroke="#8a8a8a" stroke-width="0.6"/><rect x="208.20" y="454.40000000000003" width="10.05" height="9.6" fill="#c6c6c6"/><rect x="210.10" y="456.5" width="6.25" height="6.2" fill="#fff"/><path d="M207.90,455.70000000000005h10.65M207.90,464.1h10.65M207.90,467.3h10.65M207.90,472.1h10.65" stroke="#8a8a8a" stroke-width="0.55" fill="none"/><rect x="208.20" y="467.6" width="10.05" height="4.2" fill="#d0d0d0"/><rect x="209.90" y="468.3" width="6.65" height="3" fill="#fff"/><rect x="210.30" y="477.70000000000005" width="5.85" height="7.4" fill="#e4e4e4" stroke="#8a8a8a" stroke-width="0.6"/><rect x="212.10" y="478.70000000000005" width="2.25" height="3.6" fill="#fff"/><path d="M210.90,482.90000000000003h4.65" stroke="#8a8a8a" stroke-width="0.6"/>
<rect x="218.55" y="454.1" width="10.65" height="32.6" fill="#fff" stroke="#8a8a8a" stroke-width="0.6"/><rect x="218.85" y="454.40000000000003" width="10.05" height="9.6" fill="#c6c6c6"/><rect x="220.75" y="456.5" width="6.25" height="6.2" fill="#fff"/><path d="M218.55,455.70000000000005h10.65M218.55,464.1h10.65M218.55,467.3h10.65M218.55,472.1h10.65" stroke="#8a8a8a" stroke-width="0.55" fill="none"/><rect x="218.85" y="467.6" width="10.05" height="4.2" fill="#d0d0d0"/><rect x="220.55" y="468.3" width="6.65" height="3" fill="#fff"/><rect x="220.95" y="477.70000000000005" width="5.85" height="7.4" fill="#e4e4e4" stroke="#8a8a8a" stroke-width="0.6"/><rect x="222.75" y="478.70000000000005" width="2.25" height="3.6" fill="#fff"/><path d="M221.55,482.90000000000003h4.65" stroke="#8a8a8a" stroke-width="0.6"/>
<rect x="125.60" y="599.1" width="10.64" height="32.4" fill="#fff" stroke="#8a8a8a" stroke-width="0.6"/><rect x="125.90" y="599.4" width="10.04" height="9.6" fill="#c6c6c6"/><rect x="127.80" y="601.5" width="6.24" height="6.2" fill="#fff"/><path d="M125.60,600.7h10.64M125.60,609.1h10.64M125.60,612.3000000000001h10.64M125.60,617.1h10.64" stroke="#8a8a8a" stroke-width="0.55" fill="none"/><rect x="125.90" y="612.6" width="10.04" height="4.2" fill="#d0d0d0"/><rect x="127.60" y="613.3000000000001" width="6.64" height="3" fill="#fff"/><rect x="128.00" y="622.7" width="5.84" height="7.4" fill="#e4e4e4" stroke="#8a8a8a" stroke-width="0.6"/><rect x="129.80" y="623.7" width="2.24" height="3.6" fill="#fff"/><path d="M128.60,627.9h4.64" stroke="#8a8a8a" stroke-width="0.6"/>
<rect x="136.24" y="599.1" width="10.64" height="32.4" fill="#fff" stroke="#8a8a8a" stroke-width="0.6"/><rect x="136.54" y="599.4" width="10.04" height="9.6" fill="#c6c6c6"/><rect x="138.44" y="601.5" width="6.24" height="6.2" fill="#fff"/><path d="M136.24,600.7h10.64M136.24,609.1h10.64M136.24,612.3000000000001h10.64M136.24,617.1h10.64" stroke="#8a8a8a" stroke-width="0.55" fill="none"/><rect x="136.54" y="612.6" width="10.04" height="4.2" fill="#d0d0d0"/><rect x="138.24" y="613.3000000000001" width="6.64" height="3" fill="#fff"/><rect x="138.64" y="622.7" width="5.84" height="7.4" fill="#e4e4e4" stroke="#8a8a8a" stroke-width="0.6"/><rect x="140.44" y="623.7" width="2.24" height="3.6" fill="#fff"/><path d="M139.24,627.9h4.64" stroke="#8a8a8a" stroke-width="0.6"/>
<rect x="146.88" y="599.1" width="10.64" height="32.4" fill="#fff" stroke="#8a8a8a" stroke-width="0.6"/><rect x="147.18" y="599.4" width="10.04" height="9.6" fill="#c6c6c6"/><rect x="149.08" y="601.5" width="6.24" height="6.2" fill="#fff"/><path d="M146.88,600.7h10.64M146.88,609.1h10.64M146.88,612.3000000000001h10.64M146.88,617.1h10.64" stroke="#8a8a8a" stroke-width="0.55" fill="none"/><rect x="147.18" y="612.6" width="10.04" height="4.2" fill="#d0d0d0"/><rect x="148.88" y="613.3000000000001" width="6.64" height="3" fill="#fff"/><rect x="149.28" y="622.7" width="5.84" height="7.4" fill="#e4e4e4" stroke="#8a8a8a" stroke-width="0.6"/><rect x="151.08" y="623.7" width="2.24" height="3.6" fill="#fff"/><path d="M149.88,627.9h4.64" stroke="#8a8a8a" stroke-width="0.6"/>
<rect x="157.52" y="599.1" width="10.64" height="32.4" fill="#fff" stroke="#8a8a8a" stroke-width="0.6"/><rect x="157.82" y="599.4" width="10.04" height="9.6" fill="#c6c6c6"/><rect x="159.72" y="601.5" width="6.24" height="6.2" fill="#fff"/><path d="M157.52,600.7h10.64M157.52,609.1h10.64M157.52,612.3000000000001h10.64M157.52,617.1h10.64" stroke="#8a8a8a" stroke-width="0.55" fill="none"/><rect x="157.82" y="612.6" width="10.04" height="4.2" fill="#d0d0d0"/><rect x="159.52" y="613.3000000000001" width="6.64" height="3" fill="#fff"/><rect x="159.92" y="622.7" width="5.84" height="7.4" fill="#e4e4e4" stroke="#8a8a8a" stroke-width="0.6"/><rect x="161.72" y="623.7" width="2.24" height="3.6" fill="#fff"/><path d="M160.52,627.9h4.64" stroke="#8a8a8a" stroke-width="0.6"/>
<rect x="168.16" y="599.1" width="10.64" height="32.4" fill="#fff" stroke="#8a8a8a" stroke-width="0.6"/><rect x="168.46" y="599.4" width="10.04" height="9.6" fill="#c6c6c6"/><rect x="170.36" y="601.5" width="6.24" height="6.2" fill="#fff"/><path d="M168.16,600.7h10.64M168.16,609.1h10.64M168.16,612.3000000000001h10.64M168.16,617.1h10.64" stroke="#8a8a8a" stroke-width="0.55" fill="none"/><rect x="168.46" y="612.6" width="10.04" height="4.2" fill="#d0d0d0"/><rect x="170.16" y="613.3000000000001" width="6.64" height="3" fill="#fff"/><rect x="170.56" y="622.7" width="5.84" height="7.4" fill="#e4e4e4" stroke="#8a8a8a" stroke-width="0.6"/><rect x="172.36" y="623.7" width="2.24" height="3.6" fill="#fff"/><path d="M171.16,627.9h4.64" stroke="#8a8a8a" stroke-width="0.6"/>
<rect x="178.80" y="599.1" width="10.64" height="32.4" fill="#fff" stroke="#8a8a8a" stroke-width="0.6"/><rect x="179.10" y="599.4" width="10.04" height="9.6" fill="#c6c6c6"/><rect x="181.00" y="601.5" width="6.24" height="6.2" fill="#fff"/><path d="M178.80,600.7h10.64M178.80,609.1h10.64M178.80,612.3000000000001h10.64M178.80,617.1h10.64" stroke="#8a8a8a" stroke-width="0.55" fill="none"/><rect x="179.10" y="612.6" width="10.04" height="4.2" fill="#d0d0d0"/><rect x="180.80" y="613.3000000000001" width="6.64" height="3" fill="#fff"/><rect x="181.20" y="622.7" width="5.84" height="7.4" fill="#e4e4e4" stroke="#8a8a8a" stroke-width="0.6"/><rect x="183.00" y="623.7" width="2.24" height="3.6" fill="#fff"/><path d="M181.80,627.9h4.64" stroke="#8a8a8a" stroke-width="0.6"/>
<rect x="189.44" y="599.1" width="10.64" height="32.4" fill="#fff" stroke="#8a8a8a" stroke-width="0.6"/><rect x="189.74" y="599.4" width="10.04" height="9.6" fill="#c6c6c6"/><rect x="191.64" y="601.5" width="6.24" height="6.2" fill="#fff"/><path d="M189.44,600.7h10.64M189.44,609.1h10.64M189.44,612.3000000000001h10.64M189.44,617.1h10.64" stroke="#8a8a8a" stroke-width="0.55" fill="none"/><rect x="189.74" y="612.6" width="10.04" height="4.2" fill="#d0d0d0"/><rect x="191.44" y="613.3000000000001" width="6.64" height="3" fill="#fff"/><rect x="191.84" y="622.7" width="5.84" height="7.4" fill="#e4e4e4" stroke="#8a8a8a" stroke-width="0.6"/><rect x="193.64" y="623.7" width="2.24" height="3.6" fill="#fff"/><path d="M192.44,627.9h4.64" stroke="#8a8a8a" stroke-width="0.6"/>
<rect x="200.08" y="599.1" width="10.64" height="32.4" fill="#fff" stroke="#8a8a8a" stroke-width="0.6"/><rect x="200.38" y="599.4" width="10.04" height="9.6" fill="#c6c6c6"/><rect x="202.28" y="601.5" width="6.24" height="6.2" fill="#fff"/><path d="M200.08,600.7h10.64M200.08,609.1h10.64M200.08,612.3000000000001h10.64M200.08,617.1h10.64" stroke="#8a8a8a" stroke-width="0.55" fill="none"/><rect x="200.38" y="612.6" width="10.04" height="4.2" fill="#d0d0d0"/><rect x="202.08" y="613.3000000000001" width="6.64" height="3" fill="#fff"/><rect x="202.48" y="622.7" width="5.84" height="7.4" fill="#e4e4e4" stroke="#8a8a8a" stroke-width="0.6"/><rect x="204.28" y="623.7" width="2.24" height="3.6" fill="#fff"/><path d="M203.08,627.9h4.64" stroke="#8a8a8a" stroke-width="0.6"/>
<rect x="219.60" y="599.1" width="10.65" height="32.4" fill="#fff" stroke="#8a8a8a" stroke-width="0.6"/><rect x="219.90" y="599.4" width="10.05" height="9.6" fill="#c6c6c6"/><rect x="221.80" y="601.5" width="6.25" height="6.2" fill="#fff"/><path d="M219.60,600.7h10.65M219.60,609.1h10.65M219.60,612.3000000000001h10.65M219.60,617.1h10.65" stroke="#8a8a8a" stroke-width="0.55" fill="none"/><rect x="219.90" y="612.6" width="10.05" height="4.2" fill="#d0d0d0"/><rect x="221.60" y="613.3000000000001" width="6.65" height="3" fill="#fff"/><rect x="222.00" y="622.7" width="5.85" height="7.4" fill="#e4e4e4" stroke="#8a8a8a" stroke-width="0.6"/><rect x="223.80" y="623.7" width="2.25" height="3.6" fill="#fff"/><path d="M222.60,627.9h4.65" stroke="#8a8a8a" stroke-width="0.6"/>
<rect x="230.25" y="599.1" width="10.65" height="32.4" fill="#fff" stroke="#8a8a8a" stroke-width="0.6"/><rect x="230.55" y="599.4" width="10.05" height="9.6" fill="#c6c6c6"/><rect x="232.45" y="601.5" width="6.25" height="6.2" fill="#fff"/><path d="M230.25,600.7h10.65M230.25,609.1h10.65M230.25,612.3000000000001h10.65M230.25,617.1h10.65" stroke="#8a8a8a" stroke-width="0.55" fill="none"/><rect x="230.55" y="612.6" width="10.05" height="4.2" fill="#d0d0d0"/><rect x="232.25" y="613.3000000000001" width="6.65" height="3" fill="#fff"/><rect x="232.65" y="622.7" width="5.85" height="7.4" fill="#e4e4e4" stroke="#8a8a8a" stroke-width="0.6"/><rect x="234.45" y="623.7" width="2.25" height="3.6" fill="#fff"/><path d="M233.25,627.9h4.65" stroke="#8a8a8a" stroke-width="0.6"/>
<rect x="240.90" y="599.1" width="10.65" height="32.4" fill="#fff" stroke="#8a8a8a" stroke-width="0.6"/><rect x="241.20" y="599.4" width="10.05" height="9.6" fill="#c6c6c6"/><rect x="243.10" y="601.5" width="6.25" height="6.2" fill="#fff"/><path d="M240.90,600.7h10.65M240.90,609.1h10.65M240.90,612.3000000000001h10.65M240.90,617.1h10.65" stroke="#8a8a8a" stroke-width="0.55" fill="none"/><rect x="241.20" y="612.6" width="10.05" height="4.2" fill="#d0d0d0"/><rect x="242.90" y="613.3000000000001" width="6.65" height="3" fill="#fff"/><rect x="243.30" y="622.7" width="5.85" height="7.4" fill="#e4e4e4" stroke="#8a8a8a" stroke-width="0.6"/><rect x="245.10" y="623.7" width="2.25" height="3.6" fill="#fff"/><path d="M243.90,627.9h4.65" stroke="#8a8a8a" stroke-width="0.6"/>
<rect x="251.55" y="599.1" width="10.65" height="32.4" fill="#fff" stroke="#8a8a8a" stroke-width="0.6"/><rect x="251.85" y="599.4" width="10.05" height="9.6" fill="#c6c6c6"/><rect x="253.75" y="601.5" width="6.25" height="6.2" fill="#fff"/><path d="M251.55,600.7h10.65M251.55,609.1h10.65M251.55,612.3000000000001h10.65M251.55,617.1h10.65" stroke="#8a8a8a" stroke-width="0.55" fill="none"/><rect x="251.85" y="612.6" width="10.05" height="4.2" fill="#d0d0d0"/><rect x="253.55" y="613.3000000000001" width="6.65" height="3" fill="#fff"/><rect x="253.95" y="622.7" width="5.85" height="7.4" fill="#e4e4e4" stroke="#8a8a8a" stroke-width="0.6"/><rect x="255.75" y="623.7" width="2.25" height="3.6" fill="#fff"/><path d="M254.55,627.9h4.65" stroke="#8a8a8a" stroke-width="0.6"/>
<rect x="126.8" y="496.5" width="133.7" height="95.4" rx="4.5" fill="#fff" stroke="#8a8a8a" stroke-width="0.95"/>
<path d="M145.5,500.2V503.4H157.5V500.2M151.5,503.4V510.6" fill="none" stroke="#7a7a7a" stroke-width="0.6"/>
<path d="M166.2,500.2V503.4H178.2V500.2M172.2,503.4V510.6" fill="none" stroke="#7a7a7a" stroke-width="0.6"/>
<path d="M191.5,500.2V503.4H203.5V500.2M197.5,503.4V510.6" fill="none" stroke="#7a7a7a" stroke-width="0.6"/>
<path d="M213,500.2V503.4H225V500.2M219,503.4V510.6" fill="none" stroke="#7a7a7a" stroke-width="0.6"/>
<path d="M148.2,509.6h6.6M149.3,511h4.4M150.5,512.4h2" stroke="#7a7a7a" stroke-width="0.7" fill="none"/>
<ellipse cx="172.4" cy="512.6" rx="4.8" ry="2.1" fill="#e9e9e9"/>
<path d="M191.9,511.3h1.5" stroke="#222" stroke-width="0.8"/><path d="M201.8,510.6h2.4M203.0,509.4v2.4" stroke="#222" stroke-width="0.8"/>
<path d="M213.4,511.3h1.5" stroke="#222" stroke-width="0.8"/><path d="M223.3,510.6h2.4M224.5,509.4v2.4" stroke="#222" stroke-width="0.8"/>
<text x="161.6" y="520.2" font-size="4.7" fill="#2a2a2a" stroke="#2a2a2a" stroke-width="0.18" textLength="21.6" lengthAdjust="spacingAndGlyphs">I/O屏蔽线</text>
<text x="190.9" y="520.2" font-size="4.7" fill="#2a2a2a" stroke="#2a2a2a" stroke-width="0.18" textLength="12" lengthAdjust="spacingAndGlyphs">输入2</text>
<text x="212.6" y="520.2" font-size="4.7" fill="#2a2a2a" stroke="#2a2a2a" stroke-width="0.18" textLength="12" lengthAdjust="spacingAndGlyphs">输入1</text>
<text x="194.4" y="545.2" font-size="10.3" fill="#333" text-anchor="middle" textLength="56.4" lengthAdjust="spacingAndGlyphs">FDCIO223-CN</text>
<text x="194.3" y="554.6" font-size="8.7" fill="#333" text-anchor="middle" textLength="70.4" lengthAdjust="spacingAndGlyphs">双路中继模块(2路)</text>
<text x="138.4" y="568.8" font-size="4.7" fill="#2a2a2a" stroke="#2a2a2a" stroke-width="0.18" textLength="14.4" lengthAdjust="spacingAndGlyphs">DC24V</text>
<text x="162.7" y="568.8" font-size="4.7" fill="#2a2a2a" stroke="#2a2a2a" stroke-width="0.18" textLength="22" lengthAdjust="spacingAndGlyphs">24V屏蔽线</text>
<text x="186.8" y="568.8" font-size="4.7" fill="#2a2a2a" stroke="#2a2a2a" stroke-width="0.18" textLength="22.6" lengthAdjust="spacingAndGlyphs">回路屏蔽线</text>
<text x="227.3" y="572.8" font-size="4.7" fill="#2a2a2a" stroke="#2a2a2a" stroke-width="0.18" textLength="17.8" lengthAdjust="spacingAndGlyphs">回路总线</text>
<path d="M147,571.6V575.8M139,579.6V575.8H155.5V579.6M144.5,575.8V579.6M150,575.8V579.6" fill="none" stroke="#7a7a7a" stroke-width="0.6"/>
<path d="M138,582h2.2M139.1,580.9v2.2M143.6,582h1.5M149,582h2.2M150.1,580.9v2.2M154.8,582h1.5" stroke="#222" stroke-width="0.8" fill="none"/>
<ellipse cx="173.8" cy="573.2" rx="4.6" ry="2.1" fill="#e9e9e9"/>
<path d="M173.8,575.4V578.6M168.2,582V578.6H179.6V582" fill="none" stroke="#7a7a7a" stroke-width="0.6"/>
<ellipse cx="197.6" cy="573.2" rx="4.6" ry="2.1" fill="#e9e9e9"/>
<path d="M197.6,575.4V578.6M192.3,582V578.6H203.2V582" fill="none" stroke="#7a7a7a" stroke-width="0.6"/>
<path d="M222.9,578.2h2.6M224.2,576.9v2.6M230.2,578.4h1.8M245.2,578.2h2.6M246.5,576.9v2.6M251.2,578.4h1.8" stroke="#4f4f4f" stroke-width="0.7" fill="none"/>
<path d="M129.6,636.3h2.8M131,634.9v2.8M140.2,636.3h2.8M141.6,634.9v2.8M151.2,636.5h2M161.8,636.5h2" stroke="#666" stroke-width="0.75" fill="none"/>
<path d="M222.6,636.3h2.8M224,634.9v2.8M234,636.5h2M244.6,636.3h2.8M246,634.9v2.8M255.4,636.5h2" stroke="#666" stroke-width="0.75" fill="none"/>
<path d="M192.3,431V437.6" stroke="#4a4a4a" stroke-width="1.2" fill="none"/><path d="M202.6,436V445.6" stroke="#be2a30" stroke-width="1.4" fill="none"/>
<g font-size="11" fill="#444">
<text x="5.8" y="349.1" textLength="21.4" lengthAdjust="spacingAndGlyphs">+24v</text>
<text x="6" y="366" textLength="21.2" lengthAdjust="spacingAndGlyphs">GND</text>
<text x="13.6" y="382.8" font-size="9.6">+</text>
<text x="14.8" y="398.8" font-size="9.6">-</text>
</g>
</svg>
<div class="f" style="left:15.6px;top:725.6px;color:#e8101f;font-size:12.9px;">接线说明如下：</div>
<div class="f" style="left:95.6px;top:752px;letter-spacing:-0.22px">DC24V +、-：DC24V电源</div>
<div class="f" style="left:95.8px;top:783.6px">+、-：回路总线</div>
<div class="f" style="left:95.8px;top:809.6px">输入+、-：两路信号输入</div>
</div>
</body>
</html>
